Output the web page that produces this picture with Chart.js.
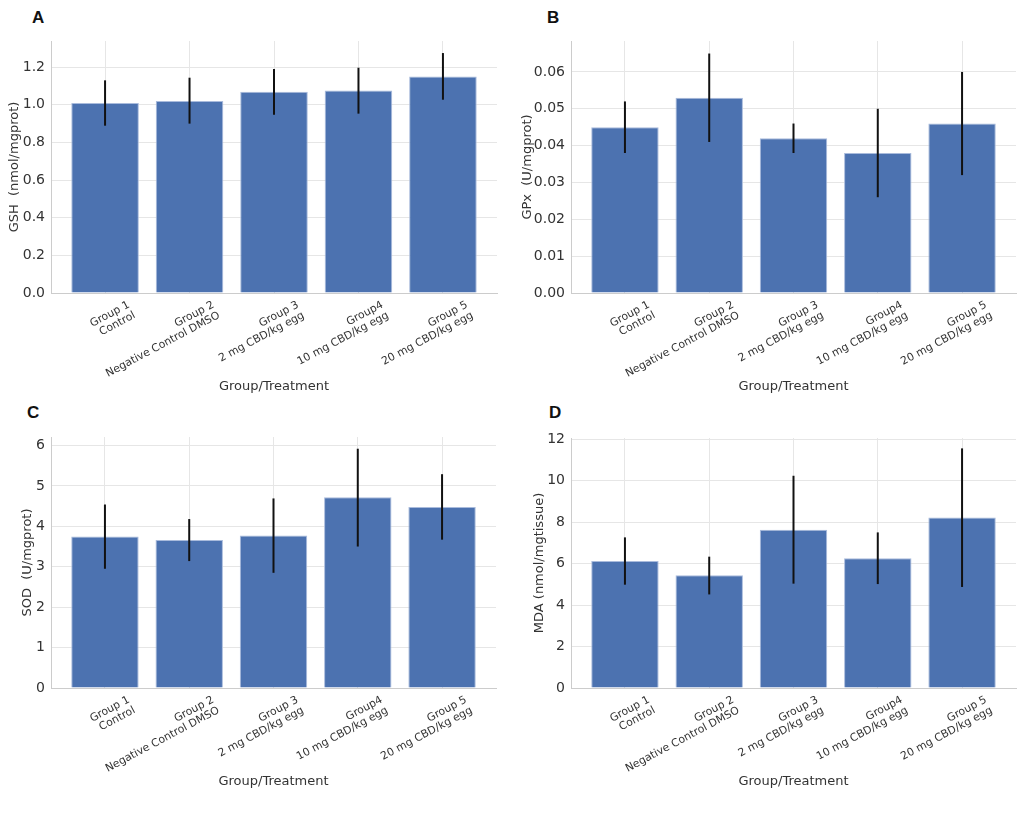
<!DOCTYPE html>
<html>
<head>
<meta charset="utf-8">
<script src="https://cdn.jsdelivr.net/npm/chart.js@4.4.1/dist/chart.umd.min.js"></script>
<style>
  body { margin: 0; background: #fff; width: 1019px; height: 830px; position: relative; overflow: hidden; }
  .panel { position: absolute; }
  .letter { position: absolute; font-family: "Liberation Sans", Arial, sans-serif; font-weight: bold; font-size: 17px; color: #111; }
</style>
</head>
<body>
<div class="letter" style="left:32px; top:8px;">A</div>
<div class="letter" style="left:547px; top:8px;">B</div>
<div class="letter" style="left:27px; top:403px;">C</div>
<div class="letter" style="left:549px; top:403px;">D</div>

<div class="panel" style="left:0px; top:30px; width:505px; height:370px;"><canvas id="chart_a"></canvas></div>
<div class="panel" style="left:510px; top:30px; width:509px; height:370px;"><canvas id="chart_b"></canvas></div>
<div class="panel" style="left:0px; top:425px; width:505px; height:370px;"><canvas id="chart_c"></canvas></div>
<div class="panel" style="left:510px; top:425px; width:509px; height:370px;"><canvas id="chart_d"></canvas></div>

<script>
// группы / подписи
const groupLabels = [
    ['Group 1', 'Control'],
    ['Group 2', 'Negative Control DMSO'],
    ['Group 3', '2 mg CBD/kg egg'],
    ['Group4', '10 mg CBD/kg egg'],
    ['Group 5', '20 mg CBD/kg egg']
];

// A: GSH
const gshMean = [1.01, 1.02, 1.07, 1.076, 1.151];
const gshLow  = [0.889, 0.90, 0.947, 0.953, 1.027];
const gshHigh = [1.13, 1.144, 1.19, 1.197, 1.275];

// B: GPx
const gpxMean = [0.045, 0.053, 0.042, 0.038, 0.046];
const gpxLow  = [0.038, 0.041, 0.038, 0.026, 0.032];
const gpxHigh = [0.052, 0.065, 0.046, 0.050, 0.060];

// C: SOD
const sodMean = [3.75, 3.66, 3.77, 4.72, 4.48];
const sodLow  = [2.95, 3.14, 2.85, 3.50, 3.67];
const sodHigh = [4.54, 4.18, 4.69, 5.92, 5.29];

// D: MDA
const mdaMean = [6.12, 5.43, 7.63, 6.25, 8.22];
const mdaLow  = [4.98, 4.51, 5.03, 5.01, 4.87];
const mdaHigh = [7.26, 6.33, 10.23, 7.50, 11.55];

const FONT = '"DejaVu Sans", Verdana, sans-serif';
const TEXT = '#333333';
const GRID = '#e6e6e6';
const BAR = '#4c72b0';

// error bars (без шапок)
const errorBarPlugin = {
    id: 'errorBars',
    afterDatasetsDraw(chart, args, opts) {
        const ctx = chart.ctx;
        const xs = chart.scales.x;
        const ys = chart.scales.y;
        ctx.save();
        ctx.strokeStyle = '#111111';
        ctx.lineWidth = 2;
        opts.low.forEach((lo, i) => {
            const x = xs.getPixelForValue(i);
            ctx.beginPath();
            ctx.moveTo(x, ys.getPixelForValue(lo));
            ctx.lineTo(x, ys.getPixelForValue(opts.high[i]));
            ctx.stroke();
        });
        ctx.restore();
    }
};

function setupChart(id, cfg) {
    const ctx = document.getElementById(id).getContext('2d');
    return new Chart(ctx, {
        type: 'bar',
        data: {
            datasets: [{
                data: cfg.mean.map((v, i) => ({ x: i, y: v })),
                backgroundColor: BAR,
                borderColor: '#a9bbdc',
                borderWidth: 1,
                categoryPercentage: 1.0,
                barPercentage: 0.8
            }]
        },
        plugins: [errorBarPlugin],
        options: {
            animation: false,
            responsive: true,
            maintainAspectRatio: false,
            layout: { padding: { left: cfg.padLeft, right: cfg.padRight, top: cfg.padTop, bottom: 0 } },
            plugins: {
                legend: { display: false },
                tooltip: { enabled: false },
                errorBars: { low: cfg.low, high: cfg.high }
            },
            scales: {
                x: {
                    type: 'linear',
                    min: -0.64,
                    max: 4.64,
                    offset: false,
                    afterBuildTicks: (scale) => {
                        scale.ticks = groupLabels.map((_, i) => ({ value: i }));
                    },
                    afterFit: (scale) => {
                        scale.height = 107;
                        scale.paddingLeft = 0;
                        scale.paddingRight = 0;
                    },
                    grid: { color: GRID, drawTicks: false, offset: false },
                    border: { color: '#cccccc' },
                    ticks: {
                        autoSkip: false,
                        minRotation: 28,
                        maxRotation: 28,
                        padding: 6,
                        labelOffset: 24,
                        color: TEXT,
                        font: { family: FONT, size: 10.8, lineHeight: 1.1 },
                        callback: (v) => groupLabels[v]
                    },
                    title: {
                        display: true,
                        text: 'Group/Treatment',
                        color: TEXT,
                        font: { family: FONT, size: 13 },
                        padding: { top: 0, bottom: 6 }
                    }
                },
                y: {
                    min: 0,
                    max: cfg.yMax,
                    afterFit: (scale) => {
                        scale.width = cfg.yWidth;
                        scale.paddingTop = 0;
                        scale.paddingBottom = 0;
                    },
                    afterBuildTicks: (scale) => {
                        scale.ticks = cfg.yTicks.map(v => ({ value: v }));
                    },
                    grid: { color: GRID, drawTicks: false },
                    border: { color: '#cccccc' },
                    ticks: {
                        padding: 6,
                        color: TEXT,
                        font: { family: FONT, size: 14 },
                        callback: (v) => v.toFixed(cfg.decimals)
                    },
                    title: {
                        display: true,
                        text: cfg.yTitle,
                        color: TEXT,
                        font: { family: FONT, size: 13 },
                        padding: { top: 0, bottom: 0 }
                    }
                }
            }
        }
    });
}

setupChart('chart_a', {
    mean: gshMean, low: gshLow, high: gshHigh,
    yMax: 1.339, yTicks: [0, 0.2, 0.4, 0.6, 0.8, 1.0, 1.2], decimals: 1,
    yTitle: 'GSH  (nmol/mgprot)',
    padLeft: 7, padRight: 8, padTop: 11, yWidth: 44
});
setupChart('chart_b', {
    mean: gpxMean, low: gpxLow, high: gpxHigh,
    yMax: 0.0684, yTicks: [0, 0.01, 0.02, 0.03, 0.04, 0.05, 0.06], decimals: 2,
    yTitle: 'GPx  (U/mgprot)',
    padLeft: 10, padRight: 3, padTop: 11, yWidth: 51
});
setupChart('chart_c', {
    mean: sodMean, low: sodLow, high: sodHigh,
    yMax: 6.21, yTicks: [0, 1, 2, 3, 4, 5, 6], decimals: 0,
    yTitle: 'SOD  (U/mgprot)',
    padLeft: 20, padRight: 9, padTop: 12, yWidth: 31
});
setupChart('chart_d', {
    mean: mdaMean, low: mdaLow, high: mdaHigh,
    yMax: 12.05, yTicks: [0, 2, 4, 6, 8, 10, 12], decimals: 0,
    yTitle: 'MDA (nmol/mgtissue)',
    padLeft: 22, padRight: 3, padTop: 13, yWidth: 39
});
</script>
</body>
</html>
